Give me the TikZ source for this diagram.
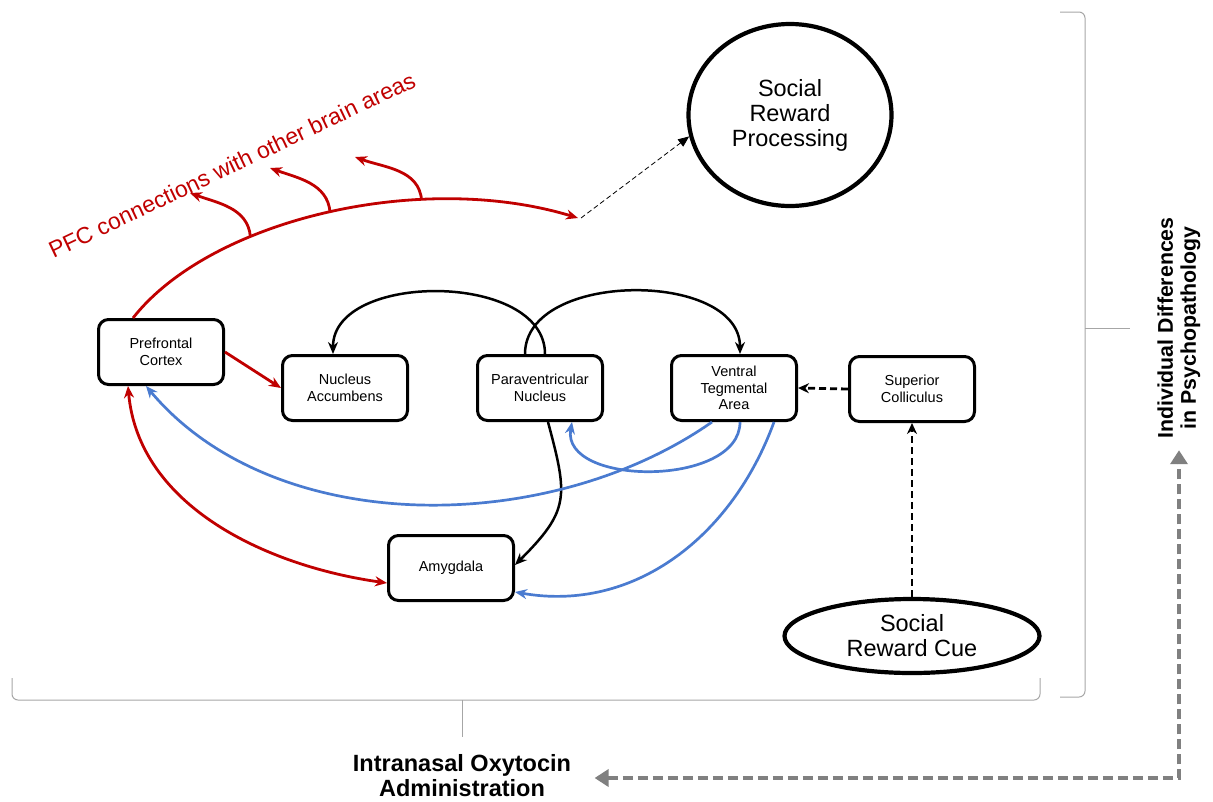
\documentclass[tikz,border=0pt]{standalone}
\usepackage{fontspec}
\setmainfont{Liberation Sans}
\usetikzlibrary{arrows.meta,positioning,shapes.geometric}
\definecolor{pfcred}{HTML}{C00000}
\definecolor{linkblue}{HTML}{4A7BD0}
\definecolor{bracketgray}{HTML}{A6A6A6}

\begin{document}
\begin{tikzpicture}[x=1pt,y=1pt,
  region/.style={draw,rounded corners=10pt,line width=3pt,minimum width=125pt,minimum height=65pt,align=center,font=\fontsize{14.5}{16.5}\selectfont},
  oval/.style={draw,ellipse,line width=4.2pt,inner sep=0pt,align=center,font=\fontsize{23.5}{25}\selectfont},
  redlink/.style={pfcred,line width=2.8pt,-{Stealth[length=12pt,width=10pt]}},
  bluelink/.style={linkblue,line width=2.7pt,-{Stealth[length=12pt,width=10pt]}},
  blacklink/.style={black,line width=2.5pt,-{Stealth[length=12pt,width=10pt]}},
  cuelink/.style={black,line width=2.8pt,dash pattern=on 7pt off 4pt,-{Stealth[length=11pt,width=10pt]}},
  bracket/.style={bracketgray,line width=1pt,rounded corners=6pt},
  grayloop/.style={gray,line width=4.5pt,dash pattern=on 10pt off 5pt,{Triangle[length=14pt,width=17pt]}-{Triangle[length=14pt,width=17pt]}}
]
\useasboundingbox (0,0) rectangle (1213,-801);

% brain regions
\node[region] (pfc) at (161,-352) {Prefrontal\\Cortex};
\node[region] (nacc) at (345,-388) {Nucleus\\Accumbens};
\node[region] (pvn) at (540,-388) {Paraventricular\\Nucleus};
\node[region] (vta) at (734,-388) {Ventral\\Tegmental\\Area};
\node[region] (sc) at (912,-389) {Superior\\Colliculus};
\node[region] (amy) at (451,-568) {Amygdala};

% outcome and cue
\node[oval,minimum width=203pt,minimum height=182pt] (srp) at (790,-115) {Social\\Reward\\Processing};
\node[oval,minimum width=255pt,minimum height=74pt] (cue) at (912,-636) {Social\\Reward Cue};

% PFC output arc
\coordinate (t1) at (190,-193);
\coordinate (t2) at (270,-168);
\coordinate (t3) at (355,-157);
\draw[redlink] ([xshift=-28pt]pfc.north) .. controls (210,-220) and (420,-170) .. (578,-218)
  coordinate[pos=0.34] (b1) coordinate[pos=0.51] (b2) coordinate[pos=0.69] (b3)
  coordinate (pfcend);
\draw[redlink] (b1) to[out=95,in=-20] (t1);
\draw[redlink] (b2) to[out=95,in=-20] (t2);
\draw[redlink] (b3) to[out=95,in=-20] (t3);
\node[pfcred,rotate=25.4,font=\fontsize{23}{25}\selectfont] (pfclabel) at (232,-165) {PFC connections with other brain areas};
\draw[line width=0.8pt,dash pattern=on 5pt off 3pt,-{Triangle[length=11pt,width=9pt]}] ([xshift=3pt]pfcend) -- (srp.192);

% red links
\draw[redlink] (pfc.east) -- (nacc.west);
\draw[pfcred,line width=2.8pt,{Stealth[length=12pt,width=10pt]}-{Stealth[length=12pt,width=10pt]}]
  ([xshift=-33pt]pfc.south) to[out=-85,in=172,looseness=0.95] ([yshift=-15pt]amy.west);

% paraventricular loops
\draw[blacklink] ([xshift=5pt]pvn.north) to[out=90,in=90] ([xshift=-12pt]nacc.north);
\draw[blacklink] ([xshift=-15pt]pvn.north) to[out=90,in=90] ([xshift=6pt]vta.north);
\draw[blacklink] ([xshift=8pt]pvn.south) to[out=-75,in=45,looseness=1.35] ([yshift=3pt]amy.east);

% blue links from VTA
\draw[bluelink] ([xshift=-22pt]vta.south) to[out=-145,in=-50,looseness=0.9] ([xshift=-15pt]pfc.south);
\draw[bluelink] ([xshift=6pt]vta.south) to[out=-90,in=-100] ([xshift=32pt]pvn.south);
\draw[bluelink] ([xshift=40pt]vta.south) to[out=-110,in=-10] ([yshift=-24pt]amy.east);

% cue pathway
\draw[cuelink] (sc.west) -- (vta.east);
\draw[cuelink] (cue.north) -- (sc.south);

% brackets
\draw[bracket] (12,-678) -- (12,-700) -- (1040,-700) -- (1040,-678);
\draw[bracketgray,line width=1pt] (462,-700) -- (462,-737);
\draw[bracket] (1060,-12) -- (1085,-12) -- (1085,-697) -- (1060,-697);
\draw[bracketgray,line width=1pt] (1085,-328) -- (1130,-328);

% moderators
\node[font=\bfseries\fontsize{23.5}{25}\selectfont,align=center] (oxy) at (462,-776) {Intranasal Oxytocin\\Administration};
\node[font=\bfseries\fontsize{21.3}{23}\selectfont,align=center,rotate=90] (indiv) at (1179,-328) {Individual Differences\\in Psychopathology};
\draw[grayloop] ([xshift=20pt,yshift=-2pt]oxy.east) -| ([yshift=-8pt]indiv.west);
\end{tikzpicture}
\end{document}
